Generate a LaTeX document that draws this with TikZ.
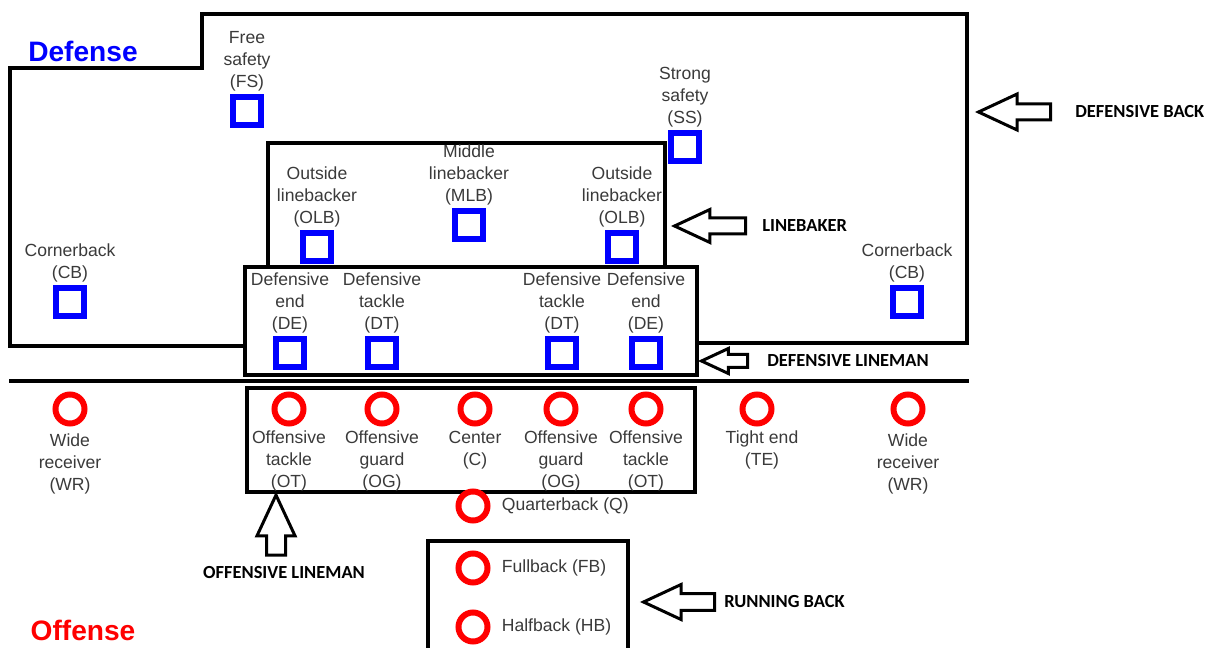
\documentclass[tikz,border=0pt]{standalone}
\usepackage{fontspec}
\setmainfont{Liberation Sans}
\newfontfamily\etiq{Carlito}
\usepackage{xcolor}
\usepackage{tikz}
\usetikzlibrary{arrows.meta, positioning, shapes.arrows}
\definecolor{bleudef}{HTML}{0000FF}
\definecolor{rougeatt}{HTML}{FF0000}
\definecolor{textegris}{HTML}{3A3A3A}
\tikzset{
  defense/.style={rectangle, draw=bleudef, line width=0.12cm, minimum size=0.56cm, inner sep=0pt},
  attaque/.style={circle, draw=rougeatt, line width=0.12cm, minimum size=0.58cm, inner sep=0pt},
  poste/.style={font=\fontsize{10}{12.5}\selectfont, text=textegris, align=center, inner sep=0pt},
  cadre/.style={line width=0.08cm, line join=miter},
  groupe/.style={font=\etiq\bfseries\fontsize{10.5}{12}\selectfont, inner sep=0pt},
  titre/.style={font=\bfseries\fontsize{16}{19}\selectfont, inner sep=0pt},
  grossefleche/.style={single arrow, draw=black, fill=white, line width=0.06cm,
    single arrow tip angle=50, single arrow head extend=0.18cm, inner sep=0pt,
    text width=0pt, text height=0.13cm, text depth=0.13cm, minimum height=1.42cm},
}
\begin{document}
\begin{tikzpicture}[x=0.02cm, y=-0.02cm]
    \useasboundingbox (0,0) rectangle (1214,648);

    \draw[cadre] (245,346) -- (10,346) -- (10,68) -- (202,68) -- (202,14) -- (967,14) -- (967,343) -- (697,343);
    \draw[cadre] (268,143) rectangle (665,267);
    \draw[cadre] (245,267) rectangle (697,375);
    \draw[cadre] (9,381) -- (969,381);
    \draw[cadre] (247,388) rectangle (695,492);
    \draw[cadre] (428,660) -- (428,541) -- (628,541) -- (628,660);

    \node[titre, text=bleudef] (defense) at (83,51) {Defense};
    \node[titre, text=rougeatt] (offense) at (83,630) {Offense};

    \node[defense] (fs) at (247,111) {};
    \node[defense] (ss) at (685,147) {};
    \node[defense] (olbg) at (317,247) {};
    \node[defense] (mlb) at (469,225) {};
    \node[defense] (olbd) at (622,247) {};
    \node[defense] (cbg) at (70,302) {};
    \node[defense] (cbd) at (907,302) {};
    \node[defense] (deg) at (290,353) {};
    \node[defense] (dtg) at (382,353) {};
    \node[defense] (dtd) at (562,353) {};
    \node[defense] (ded) at (646,353) {};

    \node[poste, above=0.06cm of fs] (lfs) {Free\\ safety\\ (FS)};
    \node[poste, above=0.06cm of ss] (lss) {Strong\\ safety\\ (SS)};
    \node[poste, above=0.06cm of olbg] (lolbg) {Outside\\ linebacker\\ (OLB)};
    \node[poste, above=0.06cm of mlb] (lmlb) {Middle\\ linebacker\\ (MLB)};
    \node[poste, above=0.06cm of olbd] (lolbd) {Outside\\ linebacker\\ (OLB)};
    \node[poste, above=0.06cm of cbg] (lcbg) {Cornerback\\ (CB)};
    \node[poste, above=0.06cm of cbd] (lcbd) {Cornerback\\ (CB)};
    \node[poste, above=0.06cm of deg] (ldeg) {Defensive\\ end\\ (DE)};
    \node[poste, above=0.06cm of dtg] (ldtg) {Defensive\\ tackle\\ (DT)};
    \node[poste, above=0.06cm of dtd] (ldtd) {Defensive\\ tackle\\ (DT)};
    \node[poste, above=0.06cm of ded] (lded) {Defensive\\ end\\ (DE)};

    \node[attaque] (wrg) at (70,409) {};
    \node[attaque] (otg) at (289,409) {};
    \node[attaque] (ogg) at (382,409) {};
    \node[attaque] (c) at (475,409) {};
    \node[attaque] (ogd) at (561,409) {};
    \node[attaque] (otd) at (646,409) {};
    \node[attaque] (te) at (757,409) {};
    \node[attaque] (wrd) at (908,409) {};
    \node[attaque] (q) at (473,506) {};
    \node[attaque] (fb) at (473,568) {};
    \node[attaque] (hb) at (473,627) {};

    \node[poste, below=0.14cm of wrg] (lwrg) {Wide\\ receiver\\ (WR)};
    \node[poste, below=0.08cm of otg] (lotg) {Offensive\\ tackle\\ (OT)};
    \node[poste, below=0.08cm of ogg] (logg) {Offensive\\ guard\\ (OG)};
    \node[poste, below=0.08cm of c] (lc) {Center\\ (C)};
    \node[poste, below=0.08cm of ogd] (logd) {Offensive\\ guard\\ (OG)};
    \node[poste, below=0.08cm of otd] (lotd) {Offensive\\ tackle\\ (OT)};
    \node[poste, below=0.08cm of te, xshift=0.1cm] (lte) {Tight end\\ (TE)};
    \node[poste, below=0.14cm of wrd] (lwrd) {Wide\\ receiver\\ (WR)};
    \node[poste, right=0.22cm of q] (lq) {Quarterback (Q)};
    \node[poste, right=0.22cm of fb] (lfb) {Fullback (FB)};
    \node[poste, right=0.22cm of hb] (lhb) {Halfback (HB)};

    \node[groupe, anchor=west] (gdb) at (1075,112) {DEFENSIVE BACK};
    \node[groupe, anchor=west] (glb) at (762,226) {LINEBAKER};
    \node[groupe, anchor=west] (gdl) at (767,361) {DEFENSIVE LINEMAN};
    \node[groupe] (gol) at (284,573) {OFFENSIVE LINEMAN};
    \node[groupe, anchor=west] (grb) at (724,602) {RUNNING BACK};

    \node[grossefleche, shape border rotate=180, minimum height=1.44cm,
      single arrow head extend=0.2cm, left=0.46cm of gdb] (fdb) {};
    \node[grossefleche, shape border rotate=180, single arrow head extend=0.17cm, left=0.3cm of glb] (flb) {};
    \node[grossefleche, shape border rotate=180, minimum height=0.92cm, text height=0.1cm, text depth=0.1cm,
      single arrow head extend=0.12cm, left=0.36cm of gdl] (fdl) {};
    \node[grossefleche, rotate=90, minimum height=1.2cm, text height=0.16cm, text depth=0.16cm,
      single arrow head extend=0.19cm, anchor=tail] (fol) at ([xshift=-0.16cm, yshift=0.2cm]gol.north) {};
    \node[grossefleche, shape border rotate=180, text height=0.14cm, text depth=0.14cm, left=0.16cm of grb] (frb) {};
  \end{tikzpicture}
\end{document}
